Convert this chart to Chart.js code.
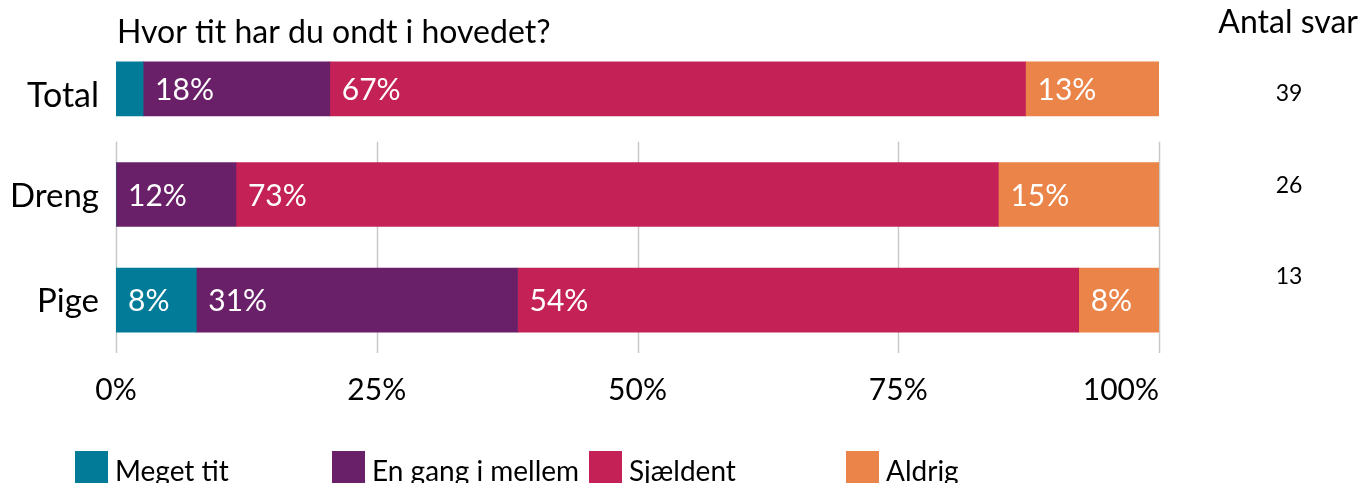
<!DOCTYPE html>
<html>
<head>
<meta charset="utf-8">
<script src="https://cdn.jsdelivr.net/npm/chart.js@4/dist/chart.umd.min.js"></script>
<style>
  html, body { margin: 0; padding: 0; background: #fff; }
  canvas { display: block; }
</style>
</head>
<body>
<canvas id="chart" width="1362" height="483"></canvas>
<script>
// data (percent of answers)
var groups = ["Total", "Dreng", "Pige"];
var answers = ["Meget tit", "En gang i mellem", "Sjældent", "Aldrig"];
var totalValues = [2.6, 17.9, 66.7, 12.8];
var drengValues = [0, 11.5, 73.1, 15.4];
var pigeValues = [7.7, 30.8, 53.8, 7.7];
var counts = [39, 26, 13];
var xTicks = [0, 25, 50, 75, 100];
var title = "Hvor tit har du ondt i hovedet?";
var countTitle = "Antal svar";

var colors = ["#027b98", "#6a2068", "#c42156", "#ea8449"];
var FONT = "Lato, 'Open Sans', sans-serif";

// Total gets its own (thinner) bars, Dreng/Pige share the rest
var datasets = [];
answers.forEach(function (a, i) {
  datasets.push({
    label: a,
    data: [totalValues[i], null, null],
    backgroundColor: colors[i],
    barThickness: 54,
    borderWidth: 0
  });
});
answers.forEach(function (a, i) {
  datasets.push({
    label: a,
    data: [null, drengValues[i], pigeValues[i]],
    backgroundColor: colors[i],
    barThickness: 64,
    borderWidth: 0
  });
});

function font(size, weight) {
  return (weight || "normal") + " " + size + "px " + FONT;
}

var decor = {
  id: "decor",
  beforeDatasetsDraw: function (chart) {
    var ctx = chart.ctx, x = chart.scales.x, y = chart.scales.y;
    var step = (chart.chartArea.bottom - chart.chartArea.top) / groups.length;
    var top = y.getPixelForValue(1) - step / 2;
    ctx.save();
    ctx.strokeStyle = "#c8c8c8";
    ctx.lineWidth = 1.5;
    xTicks.forEach(function (t) {
      var px = Math.round(x.getPixelForValue(t)) + 0.5;
      ctx.beginPath();
      ctx.moveTo(px, top);
      ctx.lineTo(px, chart.chartArea.bottom);
      ctx.stroke();
    });
    ctx.restore();
  },
  afterDatasetsDraw: function (chart) {
    var ctx = chart.ctx, x = chart.scales.x, y = chart.scales.y;
    var area = chart.chartArea;
    ctx.save();

    // value labels inside the segments
    ctx.fillStyle = "#fff";
    ctx.font = font(30);
    ctx.textAlign = "left";
    ctx.textBaseline = "alphabetic";
    chart.data.datasets.forEach(function (ds, di) {
      var meta = chart.getDatasetMeta(di);
      meta.data.forEach(function (el, idx) {
        var v = ds.data[idx];
        if (v == null || v < 5) return;
        var p = el.getProps(["x", "base", "y"], true);
        ctx.fillText(Math.round(v) + "%", Math.min(p.x, p.base) + 12, p.y + 11);
      });
    });

    // category labels
    ctx.fillStyle = "#000";
    ctx.textAlign = "right";
    groups.forEach(function (g, i) {
      ctx.font = font(i === 0 ? 34 : 33);
      ctx.fillText(g, area.left - 17, y.getPixelForValue(i) + (i === 0 ? 18 : 12));
    });

    // x tick labels (last one kept inside the plot edge)
    ctx.font = font(30);
    xTicks.forEach(function (t, i) {
      ctx.textAlign = i === xTicks.length - 1 ? "right" : "center";
      ctx.fillText(t + "%", x.getPixelForValue(t), area.bottom + 47);
    });

    // title
    ctx.textAlign = "left";
    ctx.font = font(32);
    ctx.fillText(title, area.left + 1, 43);

    // counts column
    ctx.textAlign = "right";
    ctx.font = font(32);
    ctx.fillText(countTitle, 1358, 33);
    ctx.textAlign = "center";
    ctx.font = font(23);
    counts.forEach(function (c, i) {
      ctx.fillText(String(c), 1289, 101 + i * 91.5);
    });

    // legend
    ctx.textAlign = "left";
    ctx.font = font(28);
    answers.forEach(function (a, i) {
      var lx = 75 + i * 257;
      ctx.fillStyle = colors[i];
      ctx.fillRect(lx, 451, 33, 40);
      ctx.fillStyle = "#000";
      ctx.fillText(a, lx + 40, 481);
    });
    ctx.restore();
  }
};

function draw() {
  new Chart(document.getElementById("chart"), {
    type: "bar",
    data: { labels: groups, datasets: datasets },
    options: {
      indexAxis: "y",
      responsive: false,
      animation: false,
      events: [],
      layout: { padding: { left: 116, right: 203, top: 36, bottom: 130 } },
      scales: {
        x: { stacked: true, min: 0, max: 100, display: false },
        y: { stacked: true, display: false }
      },
      plugins: { legend: { display: false }, tooltip: { enabled: false } }
    },
    plugins: [decor]
  });
}

if (document.fonts && document.fonts.load) {
  document.fonts.load("28px Lato").then(draw, draw);
} else {
  draw();
}
</script>
</body>
</html>
